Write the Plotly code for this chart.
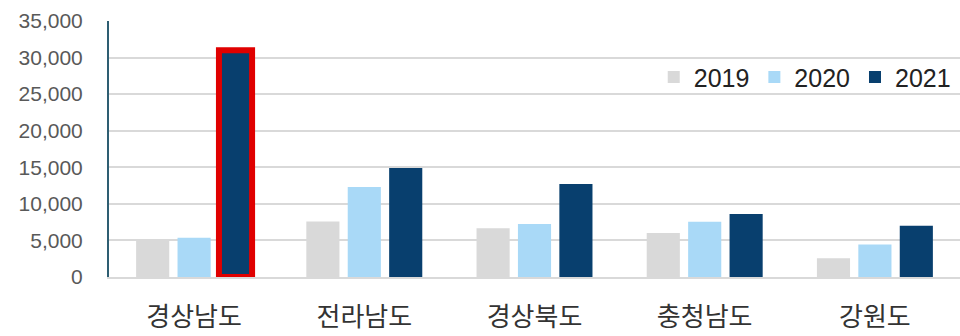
import plotly.graph_objects as go

categories = ["경상남도", "전라남도", "경상북도", "충청남도", "강원도"]
years = ["2019", "2020", "2021"]
v2019 = [5000, 7600, 6650, 6000, 2550]
v2020 = [5350, 12300, 7250, 7550, 4450]
v2021 = [31000, 14900, 12700, 8600, 7000]
highlight = [31000, None, None, None, None]
tick_vals = [0, 5000, 10000, 15000, 20000, 25000, 30000, 35000]
tick_text = ["0", "5,000", "10,000", "15,000", "20,000", "25,000", "30,000", "35,000"]

colors = ["#D9D9D9", "#A9D9F7", "#083F6E"]
series = [v2019, v2020, v2021]
groups = ["g0", "g1", "g2"]

fig = go.Figure()
for i, (name, vals) in enumerate(zip(years, series)):
    fig.add_trace(go.Bar(x=categories, y=vals, name=name, offsetgroup=groups[i],
                         marker=dict(color=colors[i], line=dict(width=0))))
# red highlight outline on the largest 2021 bar
fig.add_trace(go.Bar(x=categories, y=highlight, name="highlight", offsetgroup="g2",
                     showlegend=False, hoverinfo="skip",
                     marker=dict(color="rgba(0,0,0,0)",
                                 line=dict(color="#E00000", width=6))))

font_family = "Liberation Sans, Arial, Noto Sans CJK KR, sans-serif"
fig.update_layout(
    width=960, height=336,
    margin=dict(l=109, r=0, t=21, b=59),
    paper_bgcolor="white", plot_bgcolor="white",
    barmode="group", bargap=0.27, bargroupgap=0.2,
    font=dict(family=font_family, color="#595959"),
    legend=dict(orientation="h", x=0.995, xanchor="right", y=0.78, yanchor="middle",
                font=dict(size=25, color="#222222", family=font_family),
                itemwidth=30, tracegroupgap=0, bgcolor="rgba(0,0,0,0)"),
    showlegend=True,
)
fig.update_yaxes(range=[0, 35000], tickvals=tick_vals, ticktext=tick_text,
                 showgrid=True, gridcolor="#D9D9D9", gridwidth=1.5,
                 showline=True, linecolor="#2E5E72", linewidth=2,
                 ticks="", ticklabelstandoff=20,
                 tickfont=dict(size=21, color="#595959"), zeroline=False)
fig.update_xaxes(showline=True, linecolor="#D9D9D9", linewidth=1.5,
                 ticks="", ticklabelstandoff=16,
                 tickfont=dict(size=26, color="#333333", family="Noto Sans CJK KR"))

fig.write_html("out.html")
